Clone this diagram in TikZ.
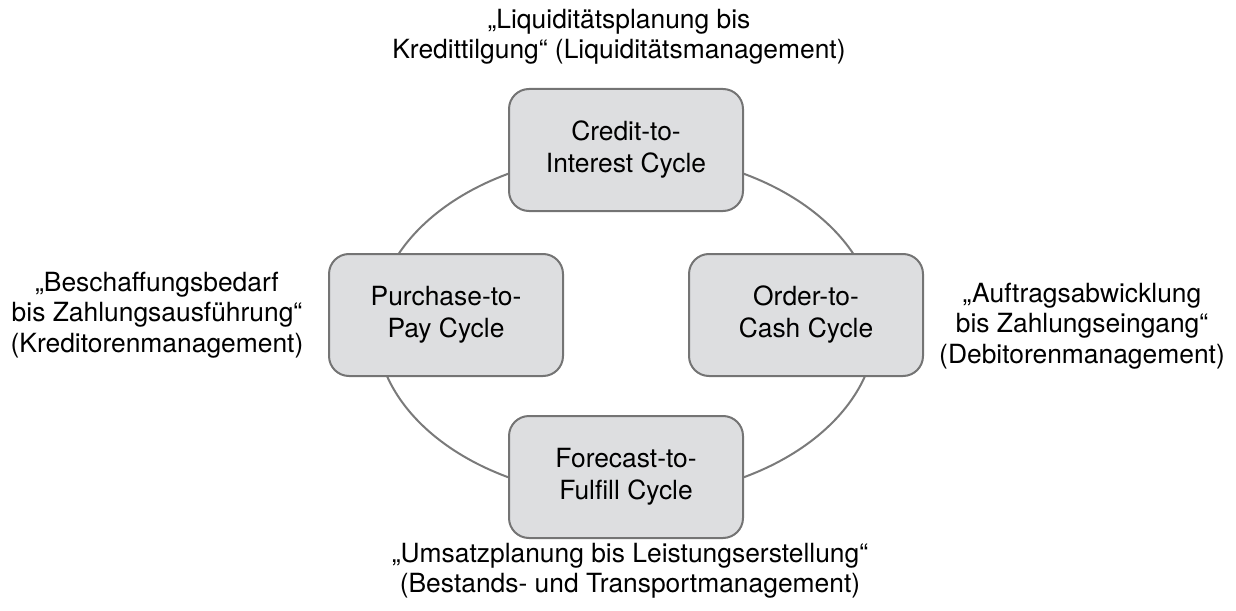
\documentclass[tikz,border=0pt]{standalone}
\usepackage{fontspec}
\setmainfont{TeX Gyre Heros}
\usepackage{tikz}
\usetikzlibrary{positioning, calc}
\definecolor{boxfill}{HTML}{DDDEE0}
\definecolor{boxline}{HTML}{747474}
\definecolor{cycleline}{HTML}{7A7A7A}

\tikzset{
  cyclebox/.style={draw=boxline, fill=boxfill, line width=1pt, rounded corners=10pt,
    minimum width=117pt, minimum height=61pt, align=center,
    font=\fontsize{13.2}{16}\selectfont},
  cyclelabel/.style={align=center, font=\fontsize{13.2}{15.2}\selectfont, inner sep=0pt}
}

\begin{document}
\begin{tikzpicture}[x=0.5pt,y=-0.5pt]
\useasboundingbox (0,0) rectangle (1236,610);

% --- Zyklus
\coordinate (mid) at (626,325.5);
\draw[cycleline, line width=1pt] (mid) ellipse [x radius=250, y radius=172];

% --- Kästen
\node[cyclebox] (credit)   at (626,150) {Credit-to-\\Interest Cycle};
\node[cyclebox] (purchase) at (446,315) {Purchase-to-\\Pay Cycle};
\node[cyclebox] (order)    at (806,315) {Order-to-\\Cash Cycle};
\node[cyclebox] (forecast) at (626,477) {Forecast-to-\\Fulfill Cycle};

% --- Beschriftungen
\node[cyclelabel] (credittxt)   at (619,37)  {„Liquiditätsplanung bis\\Kredittilgung“ (Liquiditätsmanagement)};
\node[cyclelabel] (purchasetxt) at (157,315) {„Beschaffungsbedarf\\bis Zahlungsausführung“\\(Kreditorenmanagement)};
\node[cyclelabel] (ordertxt)    at (1082,326) {„Auftragsabwicklung\\bis Zahlungseingang“\\(Debitorenmanagement)};
\node[cyclelabel] (forecasttxt) at (630,571) {„Umsatzplanung bis Leistungserstellung“\\(Bestands- und Transportmanagement)};

\end{tikzpicture}
\end{document}
